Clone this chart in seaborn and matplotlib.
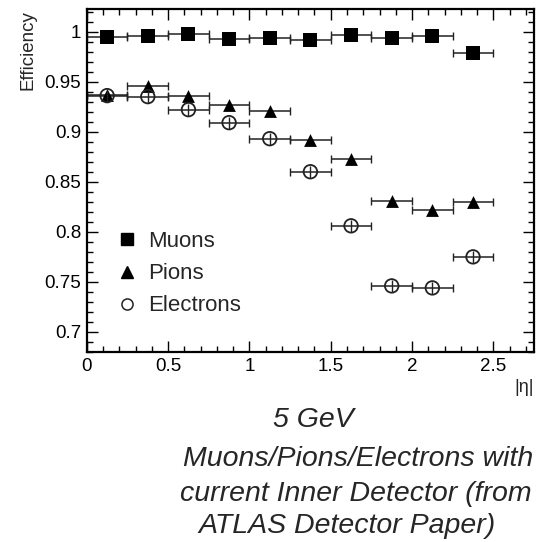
import numpy as np
import pandas as pd
import matplotlib
matplotlib.use("Agg")
import matplotlib.pyplot as plt
from matplotlib.lines import Line2D
from matplotlib.ticker import MultipleLocator
import seaborn as sns

# ---- data ----
eta_centers = [0.125, 0.375, 0.625, 0.875, 1.125, 1.375, 1.625, 1.875, 2.125, 2.375]
eta_halfwidth = 0.125
muons = [0.995, 0.996, 0.998, 0.993, 0.994, 0.992, 0.997, 0.994, 0.996, 0.979]
pions = [0.937, 0.946, 0.936, 0.927, 0.921, 0.892, 0.873, 0.831, 0.822, 0.830]
electrons = [0.936, 0.935, 0.922, 0.909, 0.893, 0.860, 0.806, 0.746, 0.744, 0.775]
electron_yerr = 0.006
series_names = ["Muons", "Pions", "Electrons"]
caption_lines = ["5 GeV", "Muons/Pions/Electrons with",
                 "current Inner Detector (from", "ATLAS Detector Paper)"]

sns.set_theme(style="ticks")
plt.rcParams["font.family"] = ["Liberation Sans", "DejaVu Sans"]

fig = plt.figure(figsize=(5.41, 5.42), dpi=100)
ax = fig.add_axes([86.8 / 541, 1 - 352 / 542, (534 - 86.8) / 541, (352 - 9) / 542])

df = pd.DataFrame({
    "eta": eta_centers * 3,
    "eff": muons + pions + electrons,
    "particle": np.repeat(series_names, len(eta_centers)),
})

ebar_kw = dict(fmt="none", ecolor="#222222", elinewidth=1.1, capsize=3, capthick=1.0, zorder=2)
for vals in (muons, pions, electrons):
    ax.errorbar(eta_centers, vals, xerr=eta_halfwidth, **ebar_kw)
ax.errorbar(eta_centers, electrons, yerr=electron_yerr, fmt="none", ecolor="#222222",
            elinewidth=1.0, capsize=0, zorder=4)

sns.scatterplot(data=df[df.particle == "Muons"], x="eta", y="eff", marker="s", s=95,
                color="black", edgecolor="black", linewidth=0, ax=ax, zorder=3, legend=False)
sns.scatterplot(data=df[df.particle == "Pions"], x="eta", y="eff", marker="^", s=85,
                color="black", edgecolor="black", linewidth=0, ax=ax, zorder=3, legend=False)
sns.scatterplot(data=df[df.particle == "Electrons"], x="eta", y="eff", marker="o", s=95,
                facecolors="none", edgecolors="#222222", linewidth=1.3, ax=ax, zorder=3,
                legend=False)

ax.set_xlim(0, 2.75)
ax.set_ylim(0.68, 1.0225)
ax.xaxis.set_minor_locator(MultipleLocator(0.1))
ax.yaxis.set_minor_locator(MultipleLocator(0.01))
ax.set_xticks([0, 0.5, 1, 1.5, 2, 2.5])
ax.set_xticklabels(["0", "0.5", "1", "1.5", "2", "2.5"])
ax.set_yticks([0.7, 0.75, 0.8, 0.85, 0.9, 0.95, 1.0])
ax.set_yticklabels(["0.7", "0.75", "0.8", "0.85", "0.9", "0.95", "1"])
ax.tick_params(which="both", direction="in", top=True, right=True, colors="black",
               labelsize=13.5, width=1.0)
ax.tick_params(which="major", length=8, pad=4)
ax.tick_params(which="minor", length=4.5)
for sp in ax.spines.values():
    sp.set_linewidth(1.6)
    sp.set_color("black")

ax.set_xlabel("")
ax.set_ylabel("")
fig.text(37 / 541, 1 - 10 / 542, "Efficiency", rotation=90, ha="right", va="top", fontsize=13.5)
fig.text(534 / 541, 1 - 387 / 542, "|η|", ha="right", va="center", fontsize=13)

handles = [
    Line2D([], [], marker="s", ls="", color="black", markersize=8),
    Line2D([], [], marker="^", ls="", color="black", markersize=8),
    Line2D([], [], marker="o", ls="", markerfacecolor="none", markeredgecolor="#222222",
           markeredgewidth=1.1, markersize=8),
]
ax.legend(handles, series_names, loc="upper left", bbox_to_anchor=(0.065, 0.352),
          frameon=False, fontsize=16, handlelength=1.0, handletextpad=0.45,
          borderpad=0, borderaxespad=0, labelspacing=0.5)

caption_x = [313, 358, 356, 347]
caption_y = [420, 459, 494, 526]
for txt, cx, cy in zip(caption_lines, caption_x, caption_y):
    fig.text(cx / 541, 1 - cy / 542, txt, ha="center", va="center", fontsize=20.5,
             style="italic")

fig.savefig("out.png", dpi=100)
